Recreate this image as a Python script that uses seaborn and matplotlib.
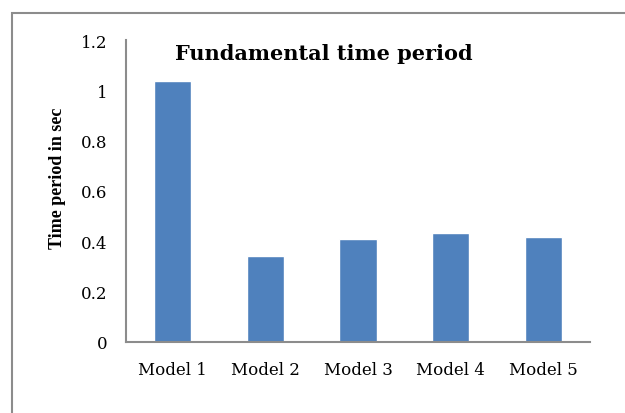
import matplotlib
matplotlib.use("Agg")
import matplotlib.pyplot as plt
import seaborn as sns
import pandas as pd
from matplotlib.patches import Rectangle

models = ["Model 1", "Model 2", "Model 3", "Model 4", "Model 5"]
periods = [1.037, 0.340, 0.408, 0.432, 0.416]
y_ticks = [0, 0.2, 0.4, 0.6, 0.8, 1.0, 1.2]
y_tick_labels = ["0", "0.2", "0.4", "0.6", "0.8", "1", "1.2"]

sns.set_theme(style="white")
plt.rcParams["font.family"] = ["DejaVu Serif"]
plt.rcParams["text.color"] = "black"

df = pd.DataFrame({"model": models, "period": periods})

fig = plt.figure(figsize=(6.25, 4.14), dpi=100)
ax = fig.add_axes([0.2016, 0.1727, 0.944 - 0.2016, 0.8998 - 0.1727])

sns.barplot(data=df, x="model", y="period", color="#4F81BD", saturation=1,
            width=0.4, ax=ax)

ax.set_ylim(0, 1.2)
ax.set_xlim(-0.5, 4.5)
ax.set_yticks(y_ticks)
ax.set_yticklabels(y_tick_labels)
ax.tick_params(axis="both", length=0, labelsize=12, colors="black")
ax.tick_params(axis="x", pad=14)
ax.tick_params(axis="y", pad=13.5)
ax.set_xlabel("")
ax.set_ylabel("Time period in sec", fontsize=13, fontweight="bold",
              color="black", family=["Liberation Serif", "DejaVu Serif"])
ax.yaxis.set_label_coords(-0.130, 0.545)

for side in ["top", "right"]:
    ax.spines[side].set_visible(False)
for side in ["left", "bottom"]:
    ax.spines[side].set_color("#8c8c8c")
    ax.spines[side].set_linewidth(1.5)

fig.text(324 / 625, 1 - 54 / 414, "Fundamental time period", ha="center",
         va="center", fontsize=15, fontweight="bold", color="black")

# chart-area frame
frame = Rectangle((12 / 625, -0.1), 1.2, 1 - 14 / 414 + 0.1, transform=fig.transFigure,
                  fill=False, edgecolor="#8c8c8c", linewidth=1.5, clip_on=False)
fig.patches.append(frame)

fig.savefig("out.png", dpi=100)
